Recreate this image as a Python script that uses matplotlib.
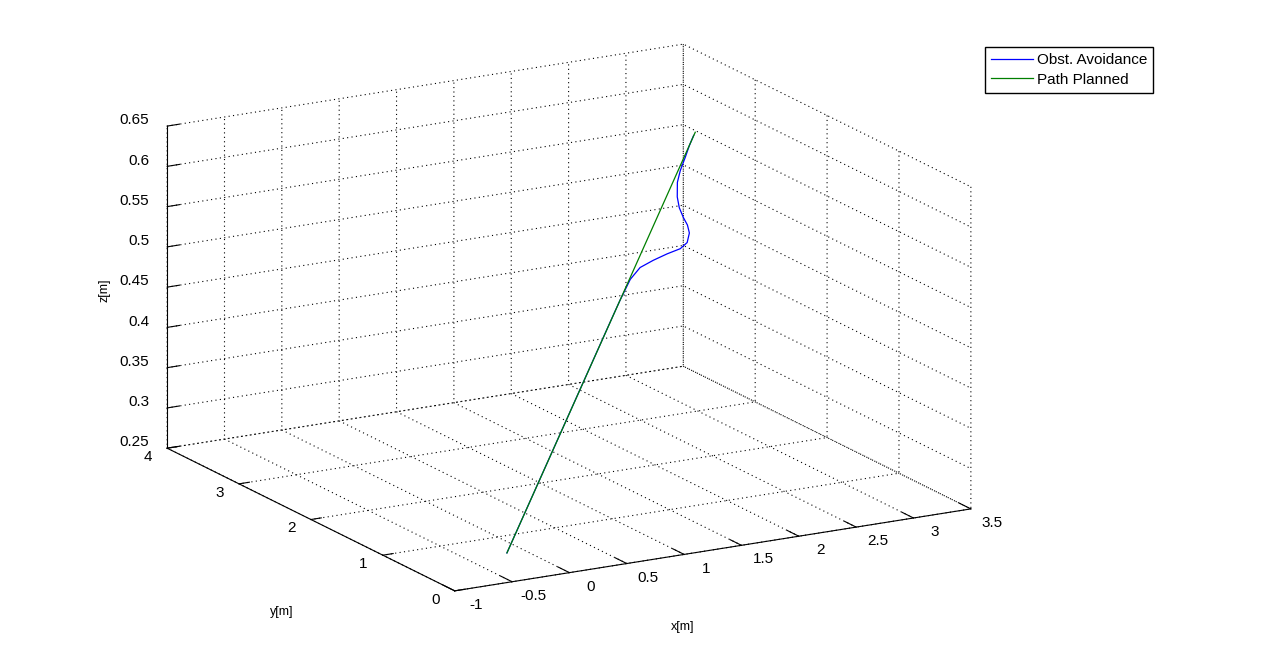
import matplotlib
matplotlib.use("Agg")
import matplotlib.pyplot as plt
from matplotlib.ticker import NullFormatter
from mpl_toolkits.mplot3d import proj3d

# planned path: straight segment from start to goal
plan_x = [-0.15, 2.62]
plan_y = [0.63, 2.43]
plan_z = [0.25, 0.63]

# obstacle avoidance trajectory
avoid_x = [-0.15, 1.387, 1.512, 1.659, 1.774, 1.903, 2.038, 2.161, 2.235, 2.280,
           2.287, 2.276, 2.271, 2.284, 2.329, 2.387, 2.465, 2.534, 2.60]
avoid_y = [0.63, 1.629, 1.710, 1.800, 1.847, 1.870, 1.892, 1.906, 1.928, 1.969,
           2.007, 2.047, 2.095, 2.144, 2.214, 2.266, 2.322, 2.374, 2.42]
avoid_z = [0.25, 0.461, 0.478, 0.497, 0.507, 0.512, 0.516, 0.519, 0.524, 0.533,
           0.541, 0.549, 0.559, 0.570, 0.584, 0.595, 0.607, 0.618, 0.627]

x_ticks = [-1, -0.5, 0, 0.5, 1, 1.5, 2, 2.5, 3, 3.5]
y_ticks = [0, 1, 2, 3, 4]
z_ticks = [0.25, 0.3, 0.35, 0.4, 0.45, 0.5, 0.55, 0.6, 0.65]

plt.rcParams["font.family"] = ["Liberation Sans", "DejaVu Sans"]
plt.rcParams["axes.unicode_minus"] = False
plt.rcParams["grid.color"] = "k"
plt.rcParams["grid.linestyle"] = (0, (1, 3))
plt.rcParams["grid.linewidth"] = 0.8

fig = plt.figure(figsize=(12.81, 6.60), dpi=100)
side = 660
left = (569 - 0.5135 * side) / 1281
bottom = (342.5 - 0.5135 * side) / 660
ax = fig.add_axes([left, bottom, side / 1281, side / 660], projection="3d")
ax.set_proj_type("ortho")
ax.view_init(elev=16.3, azim=-119.5)
ax.set_box_aspect((592, 583, 335), zoom=1.32)

l_avoid, = ax.plot(avoid_x, avoid_y, avoid_z, color="#0000ff", lw=0.9, clip_on=False)
l_plan, = ax.plot(plan_x, plan_y, plan_z, color="#007f00", lw=0.9, clip_on=False)

ax.set_xlim(-1, 3.5)
ax.set_ylim(0, 4)
ax.set_zlim(0.25, 0.65)
ax.set_xticks(x_ticks)
ax.set_yticks(y_ticks)
ax.set_zticks(z_ticks)
tick_len = {"x": 0.5, "y": 0.25, "z": 0.3}
for name, axis in (("x", ax.xaxis), ("y", ax.yaxis), ("z", ax.zaxis)):
    # labels are drawn as separate texts below
    axis.set_major_formatter(NullFormatter())
    axis.set_tick_params(labelbottom=False, labeltop=False)
    axis.pane.set_facecolor("none")
    axis.pane.set_edgecolor("none")
    axis._axinfo["tick"]["inward_factor"] = 0.0
    axis._axinfo["tick"]["outward_factor"] = tick_len[name]
    axis._axinfo["axisline"]["linewidth"] = 1.0


def label_at(x, y, z, s, **kw):
    # project the 3D anchor and put a plain 2D text there
    M = ax.get_proj()
    px, py, _ = proj3d.proj_transform(x, y, z, M)
    ax.text2D(px, py, s, transform=ax.transData, fontsize=11, **kw)


# tick labels, MATLAB-like placement beside the tick ends
for v in x_ticks:
    label_at(v, -0.3, 0.2457, f"{v:g}", ha="center", va="center")
for v in y_ticks:
    label_at(-1.17, v, 0.243, f"{v:g}", ha="center", va="center")
for v in z_ticks:
    label_at(-1, 4.25, v - 0.004, f"{v:g}", ha="right", va="center")

# axis labels placed where the original puts them
fig.text(683 / 1281, 1 - 627 / 660, "x[m]", fontsize=9, ha="center", va="center")
fig.text(282 / 1281, 1 - 612 / 660, "y[m]", fontsize=9, ha="center", va="center")
fig.text(105 / 1281, 1 - 290 / 660, "z[m]", fontsize=9, ha="center", va="center",
         rotation=90)

fig.legend([l_avoid, l_plan], ["Obst. Avoidance", "Path Planned"],
           loc="upper left", bbox_to_anchor=(985 / 1281, 1 - 47 / 660),
           borderaxespad=0, fontsize=11, fancybox=False, framealpha=1,
           edgecolor="k", handlelength=2.75, borderpad=0.39, labelspacing=0.37,
           handletextpad=0.26)

fig.savefig("out.png", dpi=100, facecolor="white")
